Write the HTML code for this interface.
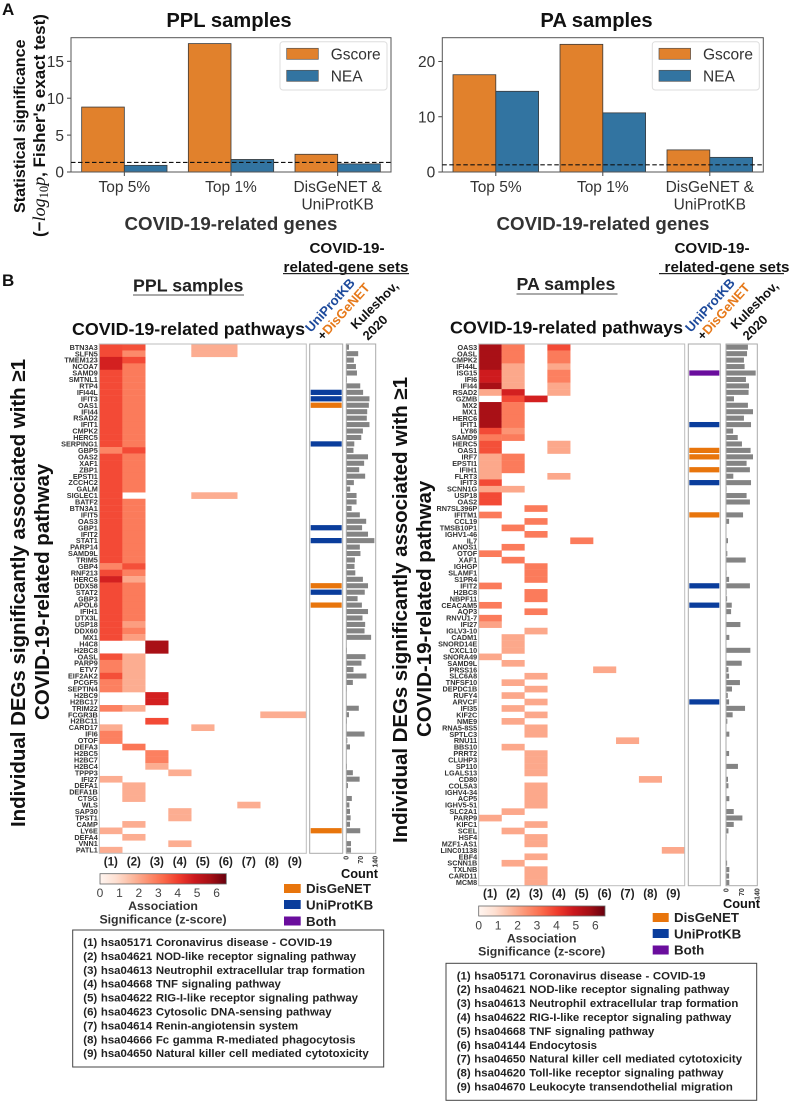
<!DOCTYPE html>
<html lang="en">
<head>
<meta charset="utf-8">
<title>COVID-19-related genes and pathways</title>
<style>
html,body{margin:0;padding:0;background:#fff;}
svg{display:block;font-family:"Liberation Sans",Arial,sans-serif;}
.b{font-weight:bold;}
</style>
</head>
<body>
<svg id="fig" xmlns="http://www.w3.org/2000/svg" width="792" height="1102" viewBox="0 0 792 1102">
<defs>
<linearGradient id="reds" x1="0" x2="1" y1="0" y2="0">
<stop offset="0" stop-color="#fff5f0"/><stop offset="0.125" stop-color="#fee0d2"/><stop offset="0.25" stop-color="#fcbba1"/><stop offset="0.375" stop-color="#fc9272"/><stop offset="0.5" stop-color="#fb6a4a"/><stop offset="0.625" stop-color="#ef3b2c"/><stop offset="0.75" stop-color="#cb181d"/><stop offset="0.875" stop-color="#a50f15"/><stop offset="1" stop-color="#67000d"/>
</linearGradient>
</defs>
<text class="b" x="2" y="15" font-size="17" fill="#111">A</text>
<text class="b" x="2" y="286" font-size="17" fill="#111">B</text>

<text class="b" x="229" y="27" font-size="20.2" text-anchor="middle" fill="#111">PPL samples</text>
<text class="b" x="596.5" y="27" font-size="20.2" text-anchor="middle" fill="#111">PA samples</text>
<text class="b" x="231" y="230" font-size="18.7" text-anchor="middle" fill="#333">COVID-19-related genes</text>
<text class="b" x="603" y="230" font-size="18.7" text-anchor="middle" fill="#333">COVID-19-related genes</text>
<text class="b" transform="translate(25,213) rotate(-90)" font-size="16.1" fill="#111">Statistical significance</text>
<text class="b" transform="translate(45,237) rotate(-90)" font-size="17" fill="#111">(−<tspan font-family="'Liberation Serif',serif" font-style="italic" font-weight="normal" font-size="18">log</tspan><tspan font-family="'Liberation Serif',serif" font-weight="normal" font-size="12.5" dy="3">10</tspan><tspan font-family="'Liberation Serif',serif" font-style="italic" font-weight="normal" font-size="18" dy="-3">p</tspan>, Fisher's exact test)</text>

<text class="b" x="133" y="291.5" font-size="17.8" fill="#222">PPL samples</text>
<rect x="133" y="294.5" width="111" height="1" fill="#555"/>
<text class="b" x="516.5" y="290" font-size="17.8" fill="#222">PA samples</text>
<rect x="516.5" y="293.5" width="101" height="1" fill="#555"/>

<text class="b" x="347" y="253" font-size="15.2" text-anchor="middle" fill="#111">COVID-19-</text>
<text class="b" x="346" y="272" font-size="15.2" text-anchor="middle" fill="#111">related-gene sets</text>
<rect x="283" y="273" width="126" height="1.2" fill="#222"/>
<text class="b" x="712" y="253" font-size="15.2" text-anchor="middle" fill="#111">COVID-19-</text>
<text class="b" x="727" y="272" font-size="15.2" text-anchor="middle" fill="#111">related-gene sets</text>
<rect x="659" y="273" width="125" height="1.2" fill="#222"/>

<text class="b" x="72" y="335" font-size="17.85" fill="#111">COVID-19-related pathways</text>
<text class="b" x="450" y="333.5" font-size="17.85" fill="#111">COVID-19-related pathways</text>

<text class="b" transform="translate(311,333) rotate(-48)" font-size="13.2" fill="#1d4a9c">UniProtKB</text>
<text class="b" transform="translate(323,341) rotate(-48)" font-size="13" fill="#e6791a"><tspan fill="#111">+</tspan>DisGeNET</text>
<text class="b" transform="translate(356,330) rotate(-45)" font-size="13" fill="#111">Kuleshov,</text>
<text class="b" transform="translate(368,341) rotate(-45)" font-size="13" fill="#111">2020</text>
<text class="b" transform="translate(691,333) rotate(-48)" font-size="13.2" fill="#1d4a9c">UniProtKB</text>
<text class="b" transform="translate(703,341) rotate(-48)" font-size="13" fill="#e6791a"><tspan fill="#111">+</tspan>DisGeNET</text>
<text class="b" transform="translate(736,330) rotate(-45)" font-size="13" fill="#111">Kuleshov,</text>
<text class="b" transform="translate(748,341) rotate(-45)" font-size="13" fill="#111">2020</text>

<text class="b" transform="translate(25,827) rotate(-90)" font-size="20.5" textLength="468" lengthAdjust="spacing" fill="#111">Individual DEGs significantly associated with ≥1</text>
<text class="b" transform="translate(49,720) rotate(-90)" font-size="20.5" fill="#111">COVID-19-related pathway</text>
<text class="b" transform="translate(407,843) rotate(-90)" font-size="20.5" textLength="466" lengthAdjust="spacing" fill="#111">Individual DEGs significantly associated with ≥1</text>
<text class="b" transform="translate(431,737) rotate(-90)" font-size="20.5" fill="#111">COVID-19-related pathway</text>

<text class="b" x="341" y="878" font-size="12.8" fill="#111">Count</text>
<text class="b" x="723" y="908" font-size="12.8" fill="#111">Count</text>

<rect x="100" y="873.7" width="126.3" height="10.3" fill="url(#reds)" stroke="#666" stroke-width="0.8"/>
<rect x="478.7" y="906" width="126.3" height="10" fill="url(#reds)" stroke="#666" stroke-width="0.8"/>
<text class="b" x="163" y="910" font-size="12.3" text-anchor="middle" fill="#333">Association</text>
<text class="b" x="163" y="923.3" font-size="12.3" text-anchor="middle" fill="#333">Significance (z-score)</text>
<text class="b" x="541.7" y="942.7" font-size="12.3" text-anchor="middle" fill="#333">Association</text>
<text class="b" x="541.7" y="955.7" font-size="12.3" text-anchor="middle" fill="#333">Significance (z-score)</text>

<rect x="284" y="884" width="16.7" height="9" fill="#e8750c"/>
<text class="b" x="306" y="893" font-size="13.3" fill="#222">DisGeNET</text>
<rect x="284" y="900" width="16.7" height="9" fill="#0a3d9c"/>
<text class="b" x="306" y="909.5" font-size="13.3" fill="#222">UniProtKB</text>
<rect x="284" y="916.5" width="16.7" height="9" fill="#6a0d9d"/>
<text class="b" x="306" y="926" font-size="13.3" fill="#222">Both</text>
<rect x="652.7" y="913" width="16" height="9" fill="#e8750c"/>
<text class="b" x="674" y="922" font-size="13.3" fill="#222">DisGeNET</text>
<rect x="652.7" y="929" width="16" height="9" fill="#0a3d9c"/>
<text class="b" x="674" y="938.7" font-size="13.3" fill="#222">UniProtKB</text>
<rect x="652.7" y="945.5" width="16" height="9" fill="#6a0d9d"/>
<text class="b" x="674" y="954.5" font-size="13.3" fill="#222">Both</text>

<rect x="72.7" y="930" width="311" height="137" fill="#fff" stroke="#444" stroke-width="1"/>
<g class="b" font-size="11.4" fill="#222" word-spacing="0.5">
<text x="83.3" y="946">(1) hsa05171 Coronavirus disease - COVID-19</text>
<text x="83.3" y="959.9">(2) hsa04621 NOD-like receptor signaling pathway</text>
<text x="83.3" y="973.8">(3) hsa04613 Neutrophil extracellular trap formation</text>
<text x="83.3" y="987.7">(4) hsa04668 TNF signaling pathway</text>
<text x="83.3" y="1001.6">(5) hsa04622 RIG-I-like receptor signaling pathway</text>
<text x="83.3" y="1015.5">(6) hsa04623 Cytosolic DNA-sensing pathway</text>
<text x="83.3" y="1029.4">(7) hsa04614 Renin-angiotensin system</text>
<text x="83.3" y="1043.3">(8) hsa04666 Fc gamma R-mediated phagocytosis</text>
<text x="83.3" y="1057.2">(9) hsa04650 Natural killer cell mediated cytotoxicity</text>
</g>
<rect x="446" y="963.3" width="310.7" height="137" fill="#fff" stroke="#444" stroke-width="1"/>
<g class="b" font-size="11.4" fill="#222" word-spacing="0.5">
<text x="456.7" y="979.3">(1) hsa05171 Coronavirus disease - COVID-19</text>
<text x="456.7" y="993.2">(2) hsa04621 NOD-like receptor signaling pathway</text>
<text x="456.7" y="1007.1">(3) hsa04613 Neutrophil extracellular trap formation</text>
<text x="456.7" y="1021">(4) hsa04622 RIG-I-like receptor signaling pathway</text>
<text x="456.7" y="1034.9">(5) hsa04668 TNF signaling pathway</text>
<text x="456.7" y="1048.8">(6) hsa04144 Endocytosis</text>
<text x="456.7" y="1062.7">(7) hsa04650 Natural killer cell mediated cytotoxicity</text>
<text x="456.7" y="1076.6">(8) hsa04620 Toll-like receptor signaling pathway</text>
<text x="456.7" y="1090.5">(9) hsa04670 Leukocyte transendothelial migration</text>
</g>
</svg>
<script>
// ---------- Panel A data ----------
const barCategories = ["Top 5%", "Top 1%", "DisGeNET &\nUniProtKB"];
const pplGscore = [8.8, 17.4, 2.4];
const pplNEA = [0.9, 1.7, 1.1];
const paGscore = [17.6, 23.1, 4.0];
const paNEA = [14.6, 10.7, 2.65];
const pplBarTicks = [0, 5, 10, 15];
const paBarTicks = [0, 10, 20];
const significanceLine = [1.3];

// ---------- Panel B data ----------
const pathwayColumns = ["(1)", "(2)", "(3)", "(4)", "(5)", "(6)", "(7)", "(8)", "(9)"];
const colorbarTicks = [0, 1, 2, 3, 4, 5, 6];
const countTicks = [0, 70, 140];

const pplGenes = ["BTN3A3","SLFN5","TMEM123","NCOA7","SAMD9","SMTNL1","RTP4","IFI44L","IFIT3","OAS1","IFI44","RSAD2","IFIT1","CMPK2","HERC5","SERPING1","GBP5","OAS2","XAF1","ZBP1","EPSTI1","ZCCHC2","GALM","SIGLEC1","BATF2","BTN3A1","IFIT5","OAS3","GBP1","IFIT2","STAT1","PARP14","SAMD9L","TRIM5","GBP4","RNF213","HERC6","DDX58","STAT2","GBP3","APOL6","IFIH1","DTX3L","USP18","DDX60","MX1","H4C8","H2BC8","OASL","PARP9","ETV7","EIF2AK2","PCGF5","SEPTIN4","H2BC9","H2BC17","TRIM22","FCGR3B","H2BC11","CARD17","IFI6","OTOF","DEFA3","H2BC5","H2BC7","H2BC4","TPPP3","IFI27","DEFA1","DEFA1B","CTSG","WLS","SAP30","TPST1","CAMP","LY6E","DEFA4","VNN1","PATL1"];
const pplZscores = [
[3.8,3.7,0,0,1.9,1.9,0,0,0],[3.8,2.6,0,0,1.9,1.9,0,0,0],[4.7,3.8,0,0,0,0,0,0,0],[4.7,2.9,0,0,0,0,0,0,0],
[3.8,2.9,0,0,0,0,0,0,0],[3.8,2.9,0,0,0,0,0,0,0],[3.8,2.9,0,0,0,0,0,0,0],[3.8,2.9,0,0,0,0,0,0,0],
[3.8,2.9,0,0,0,0,0,0,0],[3.8,2.9,0,0,0,0,0,0,0],[3.8,2.9,0,0,0,0,0,0,0],[3.8,2.9,0,0,0,0,0,0,0],
[3.8,2.9,0,0,0,0,0,0,0],[3.8,2.9,0,0,0,0,0,0,0],[3.8,2.9,0,0,0,0,0,0,0],[3.8,2.9,0,0,0,0,0,0,0],
[2.7,3.8,0,0,0,0,0,0,0],[3.8,2.9,0,0,0,0,0,0,0],[3.8,2.9,0,0,0,0,0,0,0],[3.8,2.9,0,0,0,0,0,0,0],
[3.8,2.9,0,0,0,0,0,0,0],[3.8,2.9,0,0,0,0,0,0,0],[3.8,2.9,0,0,0,0,0,0,0],[3.8,0,0,0,1.9,1.9,0,0,0],
[3.8,2.9,0,0,0,0,0,0,0],[3.8,2.9,0,0,0,0,0,0,0],[3.8,2.9,0,0,0,0,0,0,0],[3.8,2.9,0,0,0,0,0,0,0],
[3.8,2.9,0,0,0,0,0,0,0],[3.8,2.9,0,0,0,0,0,0,0],[3.8,2.9,0,0,0,0,0,0,0],[3.8,2.9,0,0,0,0,0,0,0],
[3.8,2.9,0,0,0,0,0,0,0],[3.8,2.9,0,0,0,0,0,0,0],[2.7,3.7,0,0,0,0,0,0,0],[3.8,2.8,0,0,0,0,0,0,0],
[4.7,2.0,0,0,0,0,0,0,0],[3.8,2.9,0,0,0,0,0,0,0],[3.8,2.9,0,0,0,0,0,0,0],[3.8,2.9,0,0,0,0,0,0,0],
[3.8,2.9,0,0,0,0,0,0,0],[3.8,2.9,0,0,0,0,0,0,0],[3.8,2.9,0,0,0,0,0,0,0],[3.8,2.2,0,0,0,0,0,0,0],
[3.8,2.8,0,0,0,0,0,0,0],[3.8,2.2,0,0,0,0,0,0,0],[0,0,5.6,0,0,0,0,0,0],[0,0,5.6,0,0,0,0,0,0],
[3.7,1.9,0,0,0,0,0,0,0],[2.8,1.9,0,0,0,0,0,0,0],[2.8,1.9,0,0,0,0,0,0,0],[3.7,1.9,0,0,0,0,0,0,0],
[2.8,1.9,0,0,0,0,0,0,0],[2.8,1.9,0,0,0,0,0,0,0],[0,0,4.7,0,0,0,0,0,0],[0,0,4.7,0,0,0,0,0,0],
[2.8,1.9,0,0,0,0,0,0,0],[0,0,0,0,0,0,0,1.9,1.9],[0,0,3.8,0,0,0,0,0,0],[1.9,0,0,0,1.9,0,0,0,0],
[2.8,0,0,0,0,0,0,0,0],[2.8,0,0,0,0,0,0,0,0],[0,3.0,0,0,0,0,0,0,0],[0,0,2.8,0,0,0,0,0,0],
[0,0,2.8,0,0,0,0,0,0],[0,0,1.9,0,0,0,0,0,0],[0,0,0,1.9,0,0,0,0,0],[1.9,0,0,0,0,0,0,0,0],
[0,1.9,0,0,0,0,0,0,0],[0,1.9,0,0,0,0,0,0,0],[0,1.9,0,0,0,0,0,0,0],[0,0,0,0,0,0,1.9,0,0],
[0,0,0,1.9,0,0,0,0,0],[0,0,0,1.9,0,0,0,0,0],[0,1.9,0,0,0,0,0,0,0],[1.9,0,0,0,0,0,0,0,0],
[0,1.9,0,0,0,0,0,0,0],[0,0,0,1.9,0,0,0,0,0],[1.9,0,0,0,0,0,0,0,0]
];
const pplDisGeNET = ["OAS1","DDX58","APOL6","LY6E"];
const pplUniProtKB = ["IFI44L","IFIT3","SERPING1","GBP1","STAT1","STAT2"];
const pplBoth = [];
const pplCounts = [13,58,37,47,52,3,68,82,113,110,102,100,113,81,73,39,35,106,87,63,92,37,19,50,50,26,66,97,77,106,137,66,69,42,40,44,81,106,90,55,76,106,79,92,89,121,0,3,94,74,35,98,32,2,1,1,61,13,3,0,89,5,18,1,1,3,32,65,8,0,27,15,18,21,18,68,0,23,23];

const paGenes = ["OAS3","OASL","CMPK2","IFI44L","ISG15","IFI6","IFI44","RSAD2","GZMB","MX2","MX1","HERC6","IFIT1","LY86","SAMD9","HERC5","OAS1","IRF7","EPSTI1","IFIH1","FLRT3","IFIT3","SCNN1G","USP18","OAS2","RN7SL396P","IFITM1","CCL19","TMSB10P1","IGHV1-46","IL7","ANOS1","OTOF","XAF1","IGHGP","SLAMF1","S1PR4","IFIT2","H2BC8","NBPF11","CEACAM5","AQP3","RNVU1-7","IFI27","IGLV3-10","CADM1","SNORD14E","CXCL10","SNORA49","SAMD9L","PRSS16","SLC6A8","TNFSF10","DEPDC1B","RUFY4","ARVCF","IFI35","KIF2C","NME9","RNA5-8S5","SPTLC3","RNU11","BBS10","PRRT2","CLUHP3","SP110","LGALS13","CD80","COL5A3","IGHV4-34","ACP5","IGHV5-51","SLC2A1","PARP9","KIFC1","SCEL","HSF4","MZF1-AS1","LINC01138","EBF4","SCNN1B","TXLNB","CARD11","MCM8"];
const paZscores = [
[5.6,2.9,0,3.8,0,0,0,0,0],[5.6,2.9,0,2.9,0,0,0,0,0],[5.6,2.9,0,2.9,0,0,0,0,0],[5.6,2.0,0,2.0,0,0,0,0,0],
[4.8,2.0,0,2.8,0,0,0,0,0],[4.8,2.0,0,2.8,0,0,0,0,0],[5.6,2.0,0,2.0,0,0,0,0,0],[2.0,4.7,0,2.0,0,0,0,0,0],
[0,3.8,4.7,0,0,0,0,0,0],[5.6,2.9,0,0,0,0,0,0,0],[5.6,2.9,0,0,0,0,0,0,0],[5.6,2.9,0,0,0,0,0,0,0],
[5.6,2.9,0,0,0,0,0,0,0],[3.8,2.4,0,0,0,0,0,0,0],[2.9,2.9,0,0,0,0,0,0,0],[3.7,0,0,2.0,0,0,0,0,0],
[3.7,0,0,2.0,0,0,0,0,0],[2.0,2.9,0,0,0,0,0,0,0],[2.0,2.9,0,0,0,0,0,0,0],[2.0,2.9,0,0,0,0,0,0,0],
[2.0,0,0,2.0,0,0,0,0,0],[3.8,0,0,0,0,0,0,0,0],[2.0,2.0,0,0,0,0,0,0,0],[3.8,0,0,0,0,0,0,0,0],
[3.8,0,0,0,0,0,0,0,0],[0,0,2.9,0,0,0,0,0,0],[2.9,0,0,0,0,0,0,0,0],[0,0,2.9,0,0,0,0,0,0],
[0,2.9,0,0,0,0,0,0,0],[0,0,2.9,0,0,0,0,0,0],[0,0,0,0,2.9,0,0,0,0],[0,2.9,0,0,0,0,0,0,0],
[2.9,0,0,0,0,0,0,0,0],[0,2.9,0,0,0,0,0,0,0],[0,0,2.9,0,0,0,0,0,0],[0,0,2.9,0,0,0,0,0,0],
[0,0,2.9,0,0,0,0,0,0],[2.9,0,0,0,0,0,0,0,0],[0,0,2.9,0,0,0,0,0,0],[0,0,2.9,0,0,0,0,0,0],
[2.9,0,0,0,0,0,0,0,0],[0,0,2.9,0,0,0,0,0,0],[2.9,0,0,0,0,0,0,0,0],[2.1,0,0,0,0,0,0,0,0],
[0,0,2.0,0,0,0,0,0,0],[0,2.0,0,0,0,0,0,0,0],[0,2.0,0,0,0,0,0,0,0],[0,2.0,0,0,0,0,0,0,0],
[2.0,0,0,0,0,0,0,0,0],[0,2.0,0,0,0,0,0,0,0],[0,0,0,0,0,2.0,0,0,0],[0,0,2.0,0,0,0,0,0,0],
[0,2.0,0,0,0,0,0,0,0],[0,0,2.0,0,0,0,0,0,0],[0,2.0,0,0,0,0,0,0,0],[0,0,2.0,0,0,0,0,0,0],
[0,2.0,0,0,0,0,0,0,0],[0,0,2.0,0,0,0,0,0,0],[0,2.0,0,0,0,0,0,0,0],[0,0,2.0,0,0,0,0,0,0],
[0,0,2.0,0,0,0,0,0,0],[0,0,0,0,0,0,2.0,0,0],[0,2.0,0,0,0,0,0,0,0],[0,0,2.0,0,0,0,0,0,0],
[0,0,2.0,0,0,0,0,0,0],[0,0,2.0,0,0,0,0,0,0],[0,0,2.0,0,0,0,0,0,0],[0,0,0,0,0,0,0,2.0,0],
[0,0,2.0,0,0,0,0,0,0],[0,0,2.0,0,0,0,0,0,0],[0,0,2.0,0,0,0,0,0,0],[0,0,2.0,0,0,0,0,0,0],
[0,2.0,0,0,0,0,0,0,0],[2.0,0,0,0,0,0,0,0,0],[0,0,2.0,0,0,0,0,0,0],[0,2.0,0,0,0,0,0,0,0],
[0,0,2.0,0,0,0,0,0,0],[0,0,2.0,0,0,0,0,0,0],[0,0,0,0,0,0,0,0,2.0],[0,0,2.0,0,0,0,0,0,0],
[0,2.0,0,0,0,0,0,0,0],[0,0,2.0,0,0,0,0,0,0],[0,0,2.0,0,0,0,0,0,0],[0,0,2.0,0,0,0,0,0,0]
];
const paDisGeNET = ["OAS1","IRF7","IFIH1","IFITM1"];
const paUniProtKB = ["IFIT1","IFIT3","IFIT2","CEACAM5","ARVCF"];
const paBoth = ["ISG15"];
const paCounts = [99,95,81,84,134,90,104,102,36,99,122,81,113,32,53,72,111,122,93,108,33,113,3,93,108,0,77,14,1,1,9,0,6,89,1,3,14,108,3,5,26,23,0,65,0,15,0,110,0,71,11,14,63,27,8,14,86,30,6,0,15,0,1,14,0,54,0,9,11,0,15,0,35,74,35,11,3,0,0,1,5,15,14,15];

// ---------- helpers ----------
const svgNS = "http://www.w3.org/2000/svg";
const root = document.getElementById("fig");

function make(parent, tag, attrs, text) {
  const el = document.createElementNS(svgNS, tag);
  for (const k in attrs) el.setAttribute(k, attrs[k]);
  if (text !== undefined) el.textContent = text;
  parent.appendChild(el);
  return el;
}

const redsStops = [[255,245,240],[254,224,210],[252,187,161],[252,146,114],[251,106,74],[239,59,44],[203,24,29],[165,15,21],[103,0,13]];
function redsColor(z, vmax) {
  const t = Math.max(0, Math.min(1, z / vmax)) * (redsStops.length - 1);
  const i = Math.min(redsStops.length - 2, Math.floor(t));
  const f = t - i;
  const c = redsStops[i].map((v, k) => Math.round(v + (redsStops[i + 1][k] - v) * f));
  return "rgb(" + c.join(",") + ")";
}

// ---------- grouped bar chart ----------
function drawBarChart(prefix, box, seriesA, seriesB, ticks) {
  const yScale = v => box.bottom - v * (box.bottom - box.top) / box.ymax;
  const xScale = i => box.left + (i + 0.5) * box.band;
  const g = make(root, "g", {});
  
  

  barCategories.forEach((cat, i) => {
    const cx = xScale(i);
    const barW = box.band * 0.4;
    const a = make(g, "rect", { x: cx - barW, y: yScale(seriesA[i]), width: barW, height: box.bottom - yScale(seriesA[i]), fill: "#e1812c", stroke: "#3a3a3a", "stroke-width": 0.8 });
    
    
    const b = make(g, "rect", { x: cx, y: yScale(seriesB[i]), width: barW, height: box.bottom - yScale(seriesB[i]), fill: "#3274a1", stroke: "#3a3a3a", "stroke-width": 0.8 });
    
    
    const tick = make(g, "line", { x1: cx, x2: cx, y1: box.bottom, y2: box.bottom + 4, stroke: "#444", "stroke-width": 1 });
    
    
    cat.split("\n").forEach((line, k) => {
      const lab = make(g, "text", { x: cx, y: 192 + k * 17.6, "font-size": 15.5, "text-anchor": "middle", fill: "#333" }, line);
      
      
    });
  });

  ticks.forEach(t => {
    const tick = make(g, "line", { x1: box.left - 4, x2: box.left, y1: yScale(t), y2: yScale(t), stroke: "#444", "stroke-width": 1 });
    
    
    const lab = make(g, "text", { x: box.left - 7, y: yScale(t) + 5.7, "font-size": 15.5, "text-anchor": "end", fill: "#333" }, String(t));
    
    
  });

  const frame = make(g, "rect", { x: box.left, y: box.top, width: box.right - box.left, height: box.bottom - box.top, fill: "none", stroke: "#555", "stroke-width": 1 });
  
  

  const dash = make(g, "line", { x1: box.left, x2: box.right, y1: yScale(significanceLine[0]), y2: yScale(significanceLine[0]), stroke: "#111", "stroke-width": 1.1, "stroke-dasharray": "4.5 2.5" });
  
  

  const lg = make(g, "g", {});
  
  
  const lx = box.right - 111;
  const lgBox = make(lg, "rect", { x: lx, y: 41.7, width: 107, height: 48.3, rx: 3, fill: "#fff", "fill-opacity": 0.85, stroke: "#ddd", "stroke-width": 1 });
  
  
  const sw1 = make(lg, "rect", { x: lx + 6.7, y: 48.3, width: 31.6, height: 11, fill: "#e1812c", stroke: "#555", "stroke-width": 0.7 });
  
  
  const tx1 = make(lg, "text", { x: lx + 50.7, y: 59.5, "font-size": 15.5, fill: "#333" }, "Gscore");
  
  
  const sw2 = make(lg, "rect", { x: lx + 6.7, y: 70.3, width: 31.6, height: 11, fill: "#3274a1", stroke: "#555", "stroke-width": 0.7 });
  
  
  const tx2 = make(lg, "text", { x: lx + 50.7, y: 81.5, "font-size": 15.5, fill: "#333" }, "NEA");
  
  
}

// ---------- heatmap with side panels ----------
function drawHeatmap(prefix, box, genes, zscores, counts, disgenet, uniprot, both) {
  const rowH = (box.bottom - box.top) / genes.length;
  const yBand = i => box.top + i * rowH;
  const colW = (box.right - box.left) / pathwayColumns.length;
  const xBand = j => box.left + j * colW;
  const countX = v => box.countLeft + v * (box.countRight - box.countLeft) / 140;
  const g = make(root, "g", {});
  
  

  genes.forEach((gene, i) => {
    const lab = make(g, "text", { x: box.left - 1.5, y: yBand(i) + rowH / 2 + 2.6, "font-size": 7.25, "font-weight": "bold", "text-anchor": "end", fill: "#333" }, gene);
    
    
    zscores[i].forEach((z, j) => {
      if (z <= 0) return;
      const cell = make(g, "rect", { x: xBand(j), y: yBand(i), width: colW + 0.2, height: rowH + 0.2, fill: redsColor(z, 6.5) });
      
      
    });
    let setColor = null;
    if (disgenet.includes(gene)) setColor = "#e8750c";
    if (uniprot.includes(gene)) setColor = "#0a3d9c";
    if (both.includes(gene)) setColor = "#6a0d9d";
    if (setColor) {
      const setBar = make(g, "rect", { x: box.setLeft + 1, y: yBand(i) + 0.6, width: box.setRight - box.setLeft - 2, height: rowH - 1.2, fill: setColor });
      
      
    }
    if (counts[i] > 0) {
      const bar = make(g, "rect", { x: countX(0), y: yBand(i) + 0.7, width: countX(counts[i]) - countX(0), height: rowH - 1.4, fill: "#848484" });
      
      
    }
  });

  pathwayColumns.forEach((name, j) => {
    const lab = make(g, "text", { x: xBand(j) + colW / 2, y: box.bottom + 12, "font-size": 11.6, "font-weight": "bold", "text-anchor": "middle", fill: "#222" }, name);
    
    
  });

  const mainFrame = make(g, "rect", { x: box.left, y: box.top, width: box.right - box.left, height: box.bottom - box.top, fill: "none", stroke: "#bcbcbc", "stroke-width": 1 });
  
  
  const setFrame = make(g, "rect", { x: box.setLeft, y: box.top, width: box.setRight - box.setLeft, height: box.bottom - box.top, fill: "none", stroke: "#aaa", "stroke-width": 1 });
  
  
  const countFrame = make(g, "rect", { x: box.countLeft, y: box.top, width: box.countFrameRight - box.countLeft, height: box.bottom - box.top, fill: "none", stroke: "#aaa", "stroke-width": 1 });
  
  

  countTicks.forEach(t => {
    const lab = make(g, "text", { transform: "translate(" + (countX(t) + 2.4) + "," + (box.bottom + 2.5 + 0) + ") rotate(-90)", "font-size": 7, "font-weight": "bold", "text-anchor": "end", fill: "#333" }, String(t));
    
    
  });

  const cbScale = v => box.cbLeft + v * 126.3 / 6.5;
  colorbarTicks.forEach(t => {
    const lab = make(g, "text", { x: cbScale(t), y: box.cbLabelY, "font-size": 12, "text-anchor": "middle", fill: "#444" }, String(t));
    
    
  });
}

drawBarChart("ppl", { left: 71, right: 391, top: 37.7, bottom: 172, ymax: 18.2, band: 106.67 }, pplGscore, pplNEA, pplBarTicks);
drawBarChart("pa", { left: 442.3, right: 763.3, top: 37.7, bottom: 172, ymax: 24.3, band: 107 }, paGscore, paNEA, paBarTicks);
drawHeatmap("ppl", { left: 99.3, right: 306.3, top: 344, bottom: 853.3, setLeft: 309.7, setRight: 342.7, countLeft: 346.3, countRight: 375, countFrameRight: 375.7, cbLeft: 100, cbLabelY: 897 }, pplGenes, pplZscores, pplCounts, pplDisGeNET, pplUniProtKB, pplBoth);
drawHeatmap("pa", { left: 478.7, right: 684.7, top: 344, bottom: 885.7, setLeft: 688.3, setRight: 720.3, countLeft: 726, countRight: 757, countFrameRight: 757.3, cbLeft: 478.7, cbLabelY: 929.5 }, paGenes, paZscores, paCounts, paDisGeNET, paUniProtKB, paBoth);
</script>
</body>
</html>
